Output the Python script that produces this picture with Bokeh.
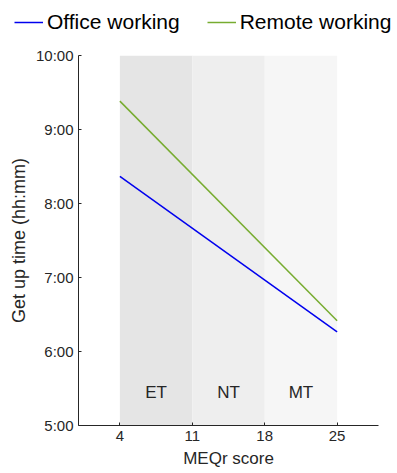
from bokeh.plotting import figure
from bokeh.layouts import column
from bokeh.models import Legend, LegendItem, FixedTicker, Range1d
from bokeh.core.properties import value
from bokeh.embed import file_html
from bokeh.resources import INLINE

# Data
meq_scores = [4, 25]
office_times = ["8:22", "6:16"]
remote_times = ["9:23", "6:25"]
series_names = ["Office working", "Remote working"]
series_colors = ["#0000ee", "#77ac30"]
band_names = ["ET", "NT", "MT"]
band_starts = [4, 11, 18]
band_ends = [11, 18, 25]
band_colors = ["#e5e5e5", "#eeeeee", "#f6f6f6"]
x_ticks = [4, 11, 18, 25]
y_tick_hours = [5, 6, 7, 8, 9, 10]

def to_hours(s):
    h, m = s.split(":")
    return int(h) + int(m) / 60.0

office_y = [to_hours(t) for t in office_times]
remote_y = [to_hours(t) for t in remote_times]

FONT = "Liberation Sans"
TXT = "#262626"

# ---- legend strip on top ----
lg = figure(width=397, height=42, output_backend="svg", toolbar_location=None,
            x_range=Range1d(0, 1), y_range=Range1d(0, 1),
            min_border_left=0, min_border_right=0, min_border_top=0, min_border_bottom=0)
lg.axis.visible = False
lg.grid.visible = False
lg.outline_line_color = None
lg.frame_align = False
# legend-only renderers (their data sits outside the strip's visible range)
d1 = lg.line(meq_scores, office_y, line_color=series_colors[0], line_width=1.5)
d2 = lg.line(meq_scores, remote_y, line_color=series_colors[1], line_width=1.5)
legend = Legend(items=[LegendItem(label=series_names[0], renderers=[d1]),
                       LegendItem(label=series_names[1], renderers=[d2])],
                orientation="horizontal", location=(14, 8), border_line_color=None,
                background_fill_alpha=0, label_text_font=FONT, label_text_font_size="21px",
                label_text_color="black", glyph_width=29, glyph_height=24, label_height=24,
                label_standoff=4, spacing=27, padding=0, margin=0)
lg.add_layout(legend)

# ---- main plot ----
p = figure(width=397, height=431, output_backend="svg", toolbar_location=None,
           x_range=Range1d(0, 29), y_range=Range1d(5, 10),
           min_border_left=78, min_border_right=19, min_border_top=13, min_border_bottom=48)
p.outline_line_color = None
p.grid.visible = False
p.frame_align = False

band_mid = [(a + b) / 2 for a, b in zip(band_starts, band_ends)]
p.quad(left=band_starts, right=band_ends, bottom=5, top=10, fill_color=band_colors, line_color=None)
p.text(x=band_mid, y=[5.45] * 3, text=band_names, text_align="center", text_baseline="middle",
       text_font=value(FONT), text_font_size="17px", text_color=TXT)

p.line(meq_scores, office_y, line_color=series_colors[0], line_width=1.5)
p.line(meq_scores, remote_y, line_color=series_colors[1], line_width=1.5)

p.xaxis.ticker = FixedTicker(ticks=x_ticks)
p.yaxis.ticker = FixedTicker(ticks=y_tick_hours)
p.yaxis.major_label_overrides = {h: f"{h}:00" for h in y_tick_hours}
for ax in (p.xaxis, p.yaxis):
    ax.minor_tick_line_color = None
    ax.major_tick_in = 3
    ax.major_tick_out = 0
    ax.axis_line_color = TXT
    ax.major_tick_line_color = TXT
    ax.major_label_text_font = FONT
    ax.major_label_text_font_size = "15px"
    ax.major_label_text_color = TXT
    ax.axis_label_text_font = FONT
    ax.axis_label_text_font_size = "17px"
    ax.axis_label_text_font_style = "normal"
    ax.axis_label_text_color = TXT
p.yaxis.axis_label_text_font_size = "18px"
p.yaxis.axis_label_standoff = 4
p.xaxis.axis_label = "MEQr score"
p.yaxis.axis_label = "Get up time (hh:mm)"

open("out.html", "w").write(file_html(column(lg, p), INLINE))
